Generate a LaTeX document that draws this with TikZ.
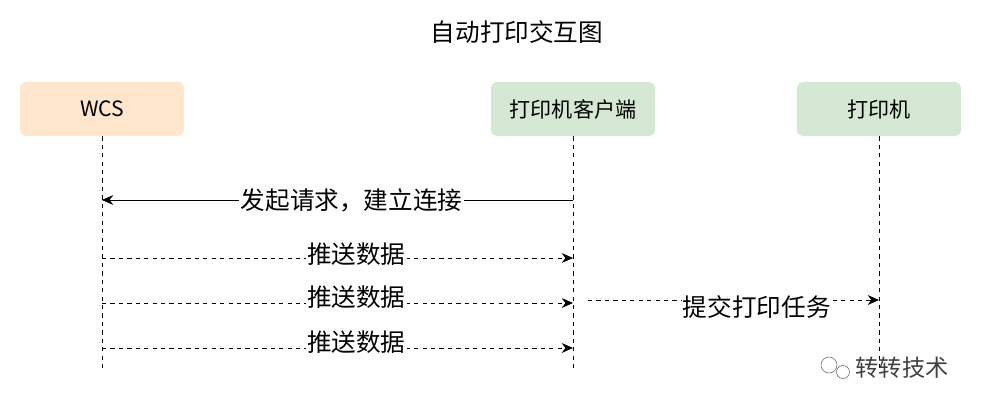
\documentclass[tikz,border=0pt]{standalone}
\usepackage{fontspec}
\setmainfont{Liberation Sans}
\newfontfamily\cjk{Noto Sans CJK SC}
\usetikzlibrary{arrows.meta,positioning}
\definecolor{wcsfill}{HTML}{FFE6CC}
\definecolor{prtfill}{HTML}{D5E8D4}
\tikzset{
  party/.style={rounded corners=4pt, minimum width=4.1cm, minimum height=1.35cm, font=\fontsize{15}{17}\selectfont\cjk, draw=none},
  life/.style={dashed, semithick},
  msg/.style={-{Stealth[length=8pt,width=7pt]}, semithick},
  lbl/.style={fill=white, inner sep=1pt, font=\fontsize{17.5}{19}\selectfont\cjk}
}
\begin{document}
\begin{tikzpicture}[x=0.025cm,y=-0.025cm]
\useasboundingbox (0,0) rectangle (982,409);
\node[font=\fontsize{17.5}{19}\selectfont\cjk] (title) at (517,32) {自动打印交互图};
\node[party, fill=wcsfill] (wcs) at (102,109) {WCS};
\node[party, fill=prtfill] (client) at (573,109) {打印机客户端};
\node[party, fill=prtfill] (printer) at (879,109) {打印机};
% lifelines
\coordinate (wcsEnd) at (102,370);
\coordinate (clientEnd) at (573,370);
\coordinate (printerEnd) at (879,370);
\draw[life] (wcs.south) -- (wcsEnd);
\draw[life] (client.south) -- (clientEnd);
\draw[life] (printer.south) -- (printerEnd);
% messages
\coordinate (c1) at (573,200); \coordinate (w1) at (102,200);
\draw[msg] (c1) -- node[lbl, pos=0.47] {发起请求，建立连接} (w1);
\coordinate (w2) at (102,258); \coordinate (c2) at (573,258);
\draw[msg, dashed] (w2) -- node[lbl, pos=0.54, yshift=3pt] {推送数据} (c2);
\coordinate (w3) at (102,303); \coordinate (c3) at (573,303);
\draw[msg, dashed] (w3) -- node[lbl, pos=0.54, yshift=4pt] {推送数据} (c3);
\coordinate (w4) at (102,348); \coordinate (c4) at (573,348);
\draw[msg, dashed] (w4) -- node[lbl, pos=0.54, yshift=4pt] {推送数据} (c4);
\coordinate (c5) at (588,300); \coordinate (p5) at (879,300);
\draw[msg, dashed] (c5) -- node[lbl, pos=0.58, yshift=-5pt] {提交打印任务} (p5);
% watermark
\node[font=\fontsize{16.5}{18}\selectfont\cjk, text=black!75] (mark) at (902,368) {转转技术};
\draw[black!60] (829,365) circle (8) (843,372) circle (6.5);
\end{tikzpicture}
\end{document}
